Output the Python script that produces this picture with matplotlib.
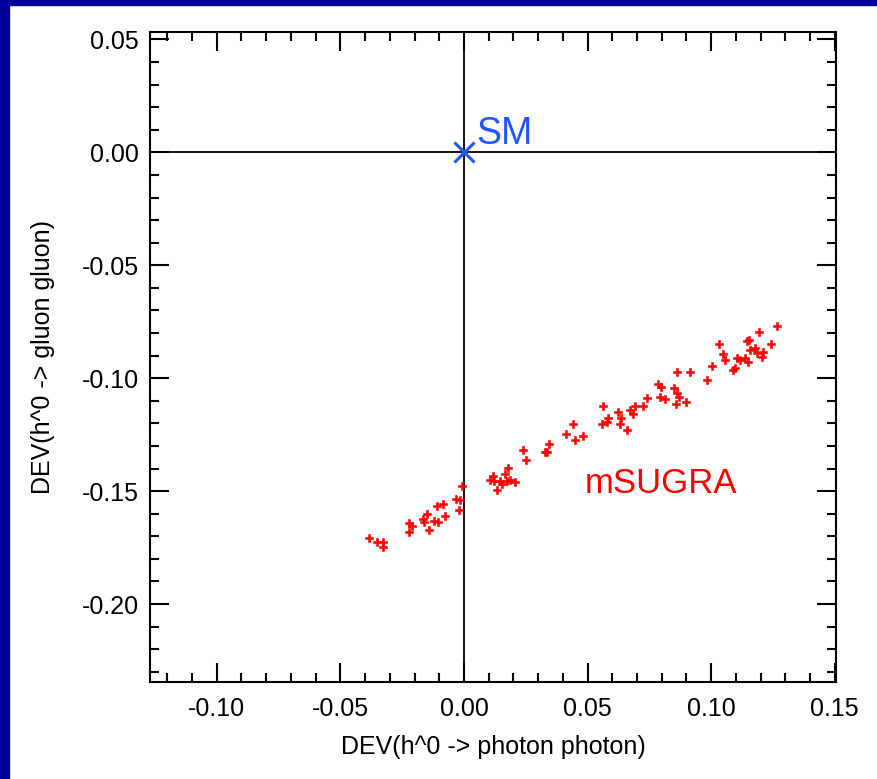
import numpy as np
import matplotlib.pyplot as plt
from matplotlib.patches import Rectangle
from matplotlib.ticker import MultipleLocator

plt.rcParams['font.family'] = ['Liberation Sans', 'DejaVu Sans']

# pontos mSUGRA (DEV gamma gamma, DEV g g)
dev_pp = [-0.0384, -0.0352, -0.0328, -0.0328, -0.0222, -0.0210, -0.0222, -0.0166,
          -0.0150, -0.0162, -0.0121, -0.0105, -0.0142, -0.0109, -0.0085, -0.0077,
          -0.0032, -0.0016, -0.0008, -0.0020,
          0.0441, 0.0412, 0.0449, 0.0344, 0.0336, 0.0328, 0.0239, 0.0251, 0.0178,
          0.0166, 0.0117, 0.0105, 0.0121, 0.0146, 0.0154, 0.0174, 0.0186, 0.0206,
          0.0133,
          0.0481, 0.0558, 0.0578, 0.0582, 0.0631, 0.0635, 0.0623, 0.0659, 0.0562,
          0.0671, 0.0683, 0.0691, 0.0724, 0.0740, 0.0793, 0.0813, 0.0784, 0.0797,
          0.0849, 0.0861, 0.0869, 0.0857, 0.0898, 0.0861, 0.0914,
          0.1266, 0.1193, 0.1152, 0.1144, 0.1241, 0.1031, 0.1047, 0.1055, 0.1104,
          0.1116, 0.1136, 0.1156, 0.1177, 0.1185, 0.1205, 0.1209, 0.1148, 0.1096,
          0.1088, 0.1003, 0.0983]
dev_gg = [-0.1708, -0.1726, -0.1726, -0.1748, -0.1642, -0.1655, -0.1681, -0.1624,
          -0.1602, -0.1637, -0.1633, -0.1637, -0.1673, -0.1566, -0.1558, -0.1611,
          -0.1535, -0.1540, -0.1478, -0.1584,
          -0.1204, -0.1248, -0.1274, -0.1292, -0.1327, -0.1327, -0.1319, -0.1363,
          -0.1398, -0.1425, -0.1434, -0.1451, -0.1456, -0.1456, -0.1469, -0.1456,
          -0.1451, -0.1460, -0.1496,
          -0.1257, -0.1204, -0.1195, -0.1177, -0.1204, -0.1177, -0.1150, -0.1230,
          -0.1124, -0.1142, -0.1159, -0.1124, -0.1124, -0.1088, -0.1084, -0.1093,
          -0.1027, -0.1040, -0.1044, -0.1066, -0.1084, -0.1115, -0.1106, -0.0973,
          -0.0973,
          -0.0770, -0.0796, -0.0832, -0.0836, -0.0850, -0.0850, -0.0894, -0.0920,
          -0.0912, -0.0920, -0.0912, -0.0876, -0.0867, -0.0889, -0.0907, -0.0885,
          -0.0929, -0.0956, -0.0965, -0.0947, -0.1009]

sm_point = (0.0, 0.0)

fig = plt.figure(figsize=(8.78, 7.79), dpi=100)
fig.patch.set_facecolor('white')
# moldura azul (esquerda e topo)
fig.patches.append(Rectangle((0, 0), 9 / 878, 1, transform=fig.transFigure,
                             color='#000099', zorder=0))
fig.patches.append(Rectangle((0, 1 - 5 / 779), 1, 5 / 779, transform=fig.transFigure,
                             color='#000099', zorder=0))

ax = fig.add_axes([150 / 878, 1 - 682 / 779, 686 / 878, 650 / 779])
ax.set_xlim(-0.127, 0.1505)
ax.set_ylim(-0.2345, 0.0533)

ax.axhline(0, color='black', lw=1.3, zorder=1)
ax.axvline(0, color='black', lw=1.3, zorder=1)

ax.plot(dev_pp, dev_gg, 'P', color='red', ms=5.5, mec='red', mew=0.4, zorder=3)
ax.plot(*sm_point, 'x', color='#2255ff', ms=14, mew=2.2, zorder=4)
ax.text(0.005, 0.0035, 'SM', color='#2255ff', fontsize=27)
ax.text(0.049, -0.1465, 'mSUGRA', color='red', fontsize=25, va='center')

ax.xaxis.set_major_locator(MultipleLocator(0.05))
ax.xaxis.set_minor_locator(MultipleLocator(0.01))
ax.yaxis.set_major_locator(MultipleLocator(0.05))
ax.yaxis.set_minor_locator(MultipleLocator(0.01))
ax.xaxis.set_major_formatter(lambda v, p: f'{v:.2f}' if abs(v) > 1e-9 else '0.00')
ax.yaxis.set_major_formatter(lambda v, p: f'{v:.2f}' if abs(v) > 1e-9 else '0.00')

ax.tick_params(which='both', direction='in', top=True, right=True, width=1.5,
               labelsize=18, colors='black')
ax.tick_params(which='major', length=14)
ax.tick_params(axis='x', which='major', pad=11)
ax.tick_params(axis='y', which='major', pad=8)
ax.tick_params(which='minor', length=6.5)
for s in ax.spines.values():
    s.set_linewidth(1.5)

ax.set_xlabel('DEV(h^0 -> photon photon)', fontsize=18, labelpad=10)
ax.set_ylabel('DEV(h^0 -> gluon gluon)', fontsize=18, labelpad=19)

fig.savefig('out.png', dpi=100)
